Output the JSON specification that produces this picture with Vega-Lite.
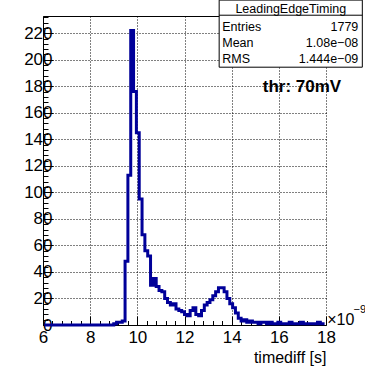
{
  "$schema": "https://vega.github.io/schema/vega-lite/v6.json",
  "width": 283,
  "height": 309,
  "autosize": {"type": "none"},
  "padding": {"left": 43, "top": 16, "right": 39, "bottom": 43},
  "background": "white",
  "config": {
    "view": {"stroke": null},
    "font": "Liberation Sans",
    "axis": {"labelFont": "Liberation Sans", "titleFont": "Liberation Sans", "labelColor": "black", "titleColor": "black", "domainColor": "black", "tickColor": "black"}
  },
  "datasets": {
    "hist": [
      {"t": 6.06, "n": 0}, {"t": 6.18, "n": 0}, {"t": 6.30, "n": 0}, {"t": 6.42, "n": 0}, {"t": 6.54, "n": 0},
      {"t": 6.66, "n": 0}, {"t": 6.78, "n": 0}, {"t": 6.90, "n": 0}, {"t": 7.02, "n": 0}, {"t": 7.14, "n": 0},
      {"t": 7.26, "n": 0}, {"t": 7.38, "n": 0}, {"t": 7.50, "n": 0}, {"t": 7.62, "n": 0}, {"t": 7.74, "n": 0},
      {"t": 7.86, "n": 0}, {"t": 7.98, "n": 0}, {"t": 8.10, "n": 0}, {"t": 8.22, "n": 0}, {"t": 8.34, "n": 0},
      {"t": 8.46, "n": 0}, {"t": 8.58, "n": 0}, {"t": 8.70, "n": 0}, {"t": 8.82, "n": 0}, {"t": 8.94, "n": 0},
      {"t": 9.06, "n": 1}, {"t": 9.18, "n": 2}, {"t": 9.30, "n": 2}, {"t": 9.42, "n": 3}, {"t": 9.54, "n": 48},
      {"t": 9.66, "n": 113}, {"t": 9.78, "n": 222}, {"t": 9.90, "n": 176}, {"t": 10.02, "n": 145}, {"t": 10.14, "n": 95},
      {"t": 10.26, "n": 68}, {"t": 10.38, "n": 56}, {"t": 10.50, "n": 52}, {"t": 10.62, "n": 30}, {"t": 10.74, "n": 35},
      {"t": 10.86, "n": 29}, {"t": 10.98, "n": 26}, {"t": 11.10, "n": 25}, {"t": 11.22, "n": 20}, {"t": 11.34, "n": 17},
      {"t": 11.46, "n": 15}, {"t": 11.58, "n": 16}, {"t": 11.70, "n": 12}, {"t": 11.82, "n": 11}, {"t": 11.94, "n": 10},
      {"t": 12.06, "n": 8}, {"t": 12.18, "n": 7}, {"t": 12.30, "n": 11}, {"t": 12.42, "n": 13}, {"t": 12.54, "n": 8},
      {"t": 12.66, "n": 7}, {"t": 12.78, "n": 11}, {"t": 12.90, "n": 15}, {"t": 13.02, "n": 17}, {"t": 13.14, "n": 19},
      {"t": 13.26, "n": 22}, {"t": 13.38, "n": 25}, {"t": 13.50, "n": 28}, {"t": 13.62, "n": 28}, {"t": 13.74, "n": 25},
      {"t": 13.86, "n": 20}, {"t": 13.98, "n": 16}, {"t": 14.10, "n": 13}, {"t": 14.22, "n": 9}, {"t": 14.34, "n": 5},
      {"t": 14.46, "n": 3}, {"t": 14.58, "n": 4}, {"t": 14.70, "n": 2}, {"t": 14.82, "n": 3}, {"t": 14.94, "n": 2},
      {"t": 15.06, "n": 2}, {"t": 15.18, "n": 1}, {"t": 15.30, "n": 2}, {"t": 15.42, "n": 2}, {"t": 15.54, "n": 1},
      {"t": 15.66, "n": 2}, {"t": 15.78, "n": 1}, {"t": 15.90, "n": 1}, {"t": 16.02, "n": 2}, {"t": 16.14, "n": 1},
      {"t": 16.26, "n": 1}, {"t": 16.38, "n": 1}, {"t": 16.50, "n": 2}, {"t": 16.62, "n": 1}, {"t": 16.74, "n": 1},
      {"t": 16.86, "n": 1}, {"t": 16.98, "n": 2}, {"t": 17.10, "n": 1}, {"t": 17.22, "n": 1}, {"t": 17.34, "n": 1},
      {"t": 17.46, "n": 1}, {"t": 17.58, "n": 1}, {"t": 17.70, "n": 2}, {"t": 17.82, "n": 1}, {"t": 17.94, "n": 1}
    ]
  },
  "layer": [
    {
      "data": {"name": "hist"},
      "mark": {"type": "line", "interpolate": "step", "color": "#000099", "strokeWidth": 3, "strokeJoin": "miter", "strokeCap": "butt"},
      "encoding": {
        "x": {
          "field": "t", "type": "quantitative",
          "scale": {"domain": [6, 18], "nice": false, "zero": false},
          "axis": {
            "orient": "bottom", "values": [6, 8, 10, 12, 14, 16, 18], "format": "d",
            "tickSize": -9, "tickWidth": 1, "domainWidth": 1,
            "labelFontSize": 17, "labelPadding": 13, "labelFlush": false, "labelOverlap": false,
            "grid": true, "gridColor": "black", "gridDash": [1, 2], "gridWidth": 1, "gridOpacity": 1,
            "title": "timediff [s]", "titleAnchor": "end", "titleFontSize": 16, "titleFontWeight": "normal", "titlePadding": 4
          }
        },
        "y": {
          "field": "n", "type": "quantitative",
          "scale": {"domain": [0, 233], "nice": false, "zero": true},
          "axis": {
            "orient": "left", "values": [0, 20, 40, 60, 80, 100, 120, 140, 160, 180, 200, 220], "format": "d",
            "tickSize": -10, "tickWidth": 1, "domainWidth": 1,
            "labelFontSize": 17, "labelPadding": 1, "labelOverlap": false, "labelFlush": false,
            "grid": true, "gridColor": "black", "gridDash": [1, 2], "gridWidth": 1, "gridOpacity": 1,
            "title": null
          }
        }
      }
    },
    {
      "data": {"values": [{}]},
      "mark": {"type": "text", "text": "thr: 70mV", "fontSize": 17, "fontWeight": "bold", "font": "Liberation Sans", "align": "center", "baseline": "middle", "color": "black"},
      "encoding": {
        "x": {
          "datum": 16.98, "type": "quantitative",
          "axis": {
            "orient": "bottom",
            "values": [6.4, 6.8, 7.2, 7.6, 8.4, 8.8, 9.2, 9.6, 10.4, 10.8, 11.2, 11.6, 12.4, 12.8, 13.2, 13.6, 14.4, 14.8, 15.2, 15.6, 16.4, 16.8, 17.2, 17.6],
            "tickSize": -4.5, "tickWidth": 1, "labels": false, "domain": false, "grid": false, "title": null
          }
        },
        "y": {
          "datum": 179.4, "type": "quantitative",
          "axis": {
            "orient": "left",
            "values": [4, 8, 12, 16, 24, 28, 32, 36, 44, 48, 52, 56, 64, 68, 72, 76, 84, 88, 92, 96, 104, 108, 112, 116, 124, 128, 132, 136, 144, 148, 152, 156, 164, 168, 172, 176, 184, 188, 192, 196, 204, 208, 212, 216, 224, 228, 232],
            "tickSize": -5, "tickWidth": 1, "labels": false, "domain": false, "grid": false, "title": null
          }
        }
      }
    },
    {
      "data": {"values": [{}]},
      "mark": {"type": "rect", "fill": "white", "stroke": "black", "strokeWidth": 1},
      "encoding": {
        "x": {
          "datum": 13.47, "type": "quantitative",
          "axis": {"orient": "top", "ticks": false, "labels": false, "domain": true, "domainWidth": 1, "grid": false, "title": null}
        },
        "x2": {"datum": 19.54},
        "y": {"datum": 245, "type": "quantitative", "axis": null},
        "y2": {"datum": 194.4}
      }
    },
    {
      "data": {"values": [{}]},
      "mark": {"type": "rule", "color": "black", "strokeWidth": 1},
      "encoding": {
        "x": {"datum": 13.47, "type": "quantitative", "axis": null},
        "x2": {"datum": 19.54},
        "y": {"datum": 233.6, "type": "quantitative", "axis": null}
      }
    },
    {
      "data": {"values": [{}]},
      "mark": {"type": "text", "text": "LeadingEdgeTiming", "fontSize": 12.5, "font": "Liberation Sans", "align": "center", "baseline": "middle", "color": "black"},
      "encoding": {
        "x": {"datum": 16.505, "type": "quantitative", "axis": null},
        "y": {"datum": 238.5, "type": "quantitative", "axis": null}
      }
    },
    {
      "data": {"values": [{}]},
      "mark": {"type": "text", "text": "Entries", "fontSize": 12.5, "font": "Liberation Sans", "align": "left", "baseline": "middle", "color": "black"},
      "encoding": {
        "x": {"datum": 13.6, "type": "quantitative", "axis": null},
        "y": {"datum": 224.6, "type": "quantitative", "axis": null}
      }
    },
    {
      "data": {"values": [{}]},
      "mark": {"type": "text", "text": "1779", "fontSize": 12.5, "font": "Liberation Sans", "align": "right", "baseline": "middle", "color": "black"},
      "encoding": {
        "x": {"datum": 19.37, "type": "quantitative", "axis": null},
        "y": {"datum": 224.6, "type": "quantitative", "axis": null}
      }
    },
    {
      "data": {"values": [{}]},
      "mark": {"type": "text", "text": "Mean", "fontSize": 12.5, "font": "Liberation Sans", "align": "left", "baseline": "middle", "color": "black"},
      "encoding": {
        "x": {"datum": 13.6, "type": "quantitative", "axis": null},
        "y": {"datum": 212.5, "type": "quantitative", "axis": null}
      }
    },
    {
      "data": {"values": [{}]},
      "mark": {"type": "text", "text": "1.08e−08", "fontSize": 12.5, "font": "Liberation Sans", "align": "right", "baseline": "middle", "color": "black"},
      "encoding": {
        "x": {"datum": 19.37, "type": "quantitative", "axis": null},
        "y": {"datum": 212.5, "type": "quantitative", "axis": null}
      }
    },
    {
      "data": {"values": [{}]},
      "mark": {"type": "text", "text": "RMS", "fontSize": 12.5, "font": "Liberation Sans", "align": "left", "baseline": "middle", "color": "black"},
      "encoding": {
        "x": {"datum": 13.6, "type": "quantitative", "axis": null},
        "y": {"datum": 200.5, "type": "quantitative", "axis": null}
      }
    },
    {
      "data": {"values": [{}]},
      "mark": {"type": "text", "text": "1.444e−09", "fontSize": 12.5, "font": "Liberation Sans", "align": "right", "baseline": "middle", "color": "black"},
      "encoding": {
        "x": {"datum": 19.37, "type": "quantitative", "axis": null},
        "y": {"datum": 200.5, "type": "quantitative", "axis": null}
      }
    },
    {
      "data": {"values": [{}]},
      "mark": {"type": "text", "text": "×10", "fontSize": 16, "font": "Liberation Sans", "align": "left", "baseline": "middle", "color": "black"},
      "encoding": {
        "x": {"datum": 18.05, "type": "quantitative", "axis": null},
        "y": {"datum": 3.8, "type": "quantitative", "axis": null}
      }
    },
    {
      "data": {"values": [{}]},
      "mark": {"type": "text", "text": "−9", "fontSize": 11, "font": "Liberation Sans", "align": "left", "baseline": "middle", "color": "black"},
      "encoding": {
        "x": {"datum": 19.17, "type": "quantitative", "axis": null},
        "y": {"datum": 11.3, "type": "quantitative", "axis": null}
      }
    }
  ],
  "resolve": {"axis": {"x": "independent", "y": "independent"}}
}
